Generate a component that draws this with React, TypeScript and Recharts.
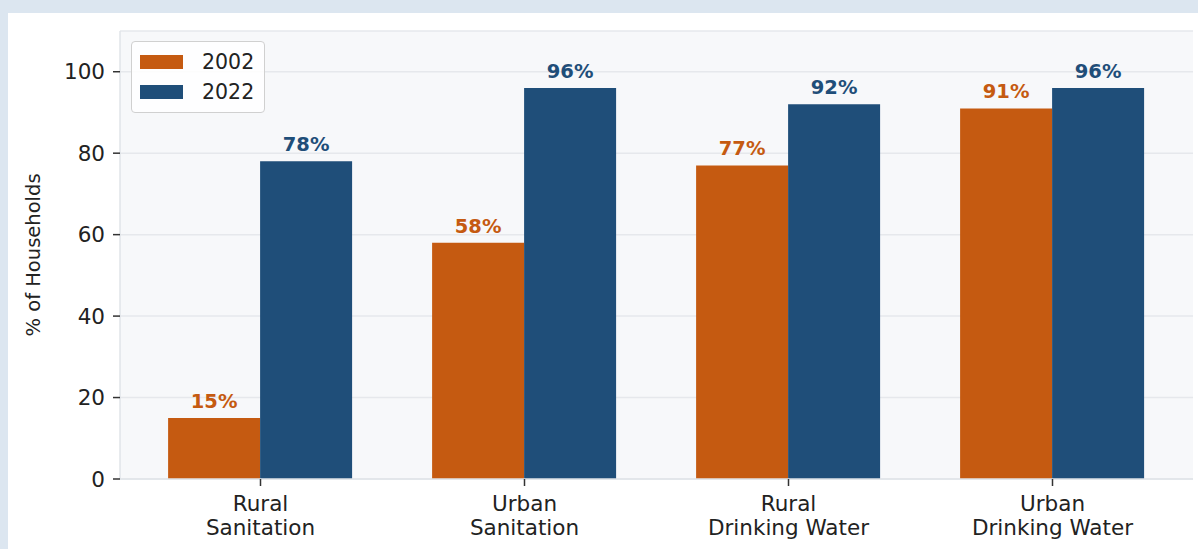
import React from 'react'
import { BarChart, Bar, XAxis, YAxis, CartesianGrid, Legend, LabelList } from 'recharts'

const categories = ['Rural\nSanitation', 'Urban\nSanitation', 'Rural\nDrinking Water', 'Urban\nDrinking Water']
const values2002 = [15, 58, 77, 91]
const values2022 = [78, 96, 92, 96]
const yTicks = [0, 20, 40, 60, 80, 100]

const ORANGE = '#c55a11'
const BLUE = '#1f4e79'
const FONT = '"DejaVu Sans", sans-serif'

const data = categories.map((c, i) => ({ name: c, y2002: values2002[i], y2022: values2022[i] }))

const XTick = ({ x, y, payload }: any) => {
  const lines = String(payload.value).split('\n')
  return (
    <text x={x} y={y} textAnchor="middle" fontFamily={FONT} fontSize={21.5} fill="#222">
      {lines.map((l, i) => (
        <tspan key={i} x={x} dy={i === 0 ? 23 : 24}>{l}</tspan>
      ))}
    </text>
  )
}

const makeLabel = (color: string) => (props: any) => {
  const { x, y, width, value } = props
  return (
    <text x={x + width / 2} y={y - 10} textAnchor="middle" fontFamily={FONT} fontSize={19.5}
      fontWeight="bold" fill={color}>
      {value}%
    </text>
  )
}

const LegendBox = () => (
  <div style={{
    background: 'rgba(255,255,255,0.85)',
    border: '1px solid #d0d0d0',
    borderRadius: 4,
    padding: '5px 8px 5px 8px',
    fontFamily: FONT,
    fontSize: 20.5,
    color: '#222',
    width: 116,
    boxSizing: 'content-box'
  }}>
    {[['2002', ORANGE], ['2022', BLUE]].map(([n, c]) => (
      <div key={n} style={{ display: 'flex', alignItems: 'center', height: 30 }}>
        <div style={{ width: 43, height: 14, background: c, marginRight: 19 }} />
        <span>{n}</span>
      </div>
    ))}
  </div>
)

export default function App() {
  return (
    <div style={{ position: 'absolute', left: 0, top: 0, width: 1198, height: 549, background: '#dce6f0', overflow: 'hidden' }}>
      <div style={{ position: 'absolute', left: 8, top: 13, width: 1190, height: 536, background: '#fff' }} />
      <div style={{ position: 'absolute', left: 0, top: 0 }}>
        <BarChart width={1198} height={549} data={data}
          margin={{ top: 31, right: 5, bottom: 10, left: 0 }}
          barCategoryGap="15%" barGap={0}>
          <CartesianGrid vertical={false} fill="#f7f8fa" stroke="#e6e8ec" strokeWidth={1.5} />
          <XAxis dataKey="name" interval={0} height={60} padding={{ left: 8.5, right: 8.5 }}
            axisLine={{ stroke: '#e1e4e8', strokeWidth: 1.5 }}
            tickLine={{ stroke: '#333', strokeWidth: 1.5 }} tickSize={7}
            tick={<XTick />} />
          <YAxis width={120} domain={[0, 110]} ticks={yTicks} interval={0}
            axisLine={{ stroke: '#e1e4e8', strokeWidth: 1.5 }}
            tickLine={{ stroke: '#333', strokeWidth: 1.5 }} tickSize={7} tickMargin={8}
            tick={{ fontFamily: FONT, fontSize: 21.5, fill: '#222' }}
            label={{ value: '% of Households', angle: -90, position: 'insideLeft', dx: 28,
              style: { fontFamily: FONT, fontSize: 19.5, fill: '#222', textAnchor: 'middle' } }} />
          <Legend layout="vertical" verticalAlign="middle" align="center" content={<LegendBox />}
            wrapperStyle={{ left: 131, top: 41, width: 'auto' }} />
          <Bar dataKey="y2002" name="2002" fill={ORANGE} isAnimationActive={false}>
            <LabelList dataKey="y2002" content={makeLabel(ORANGE)} />
          </Bar>
          <Bar dataKey="y2022" name="2022" fill={BLUE} isAnimationActive={false}>
            <LabelList dataKey="y2022" content={makeLabel(BLUE)} />
          </Bar>
        </BarChart>
      </div>
    </div>
  )
}
